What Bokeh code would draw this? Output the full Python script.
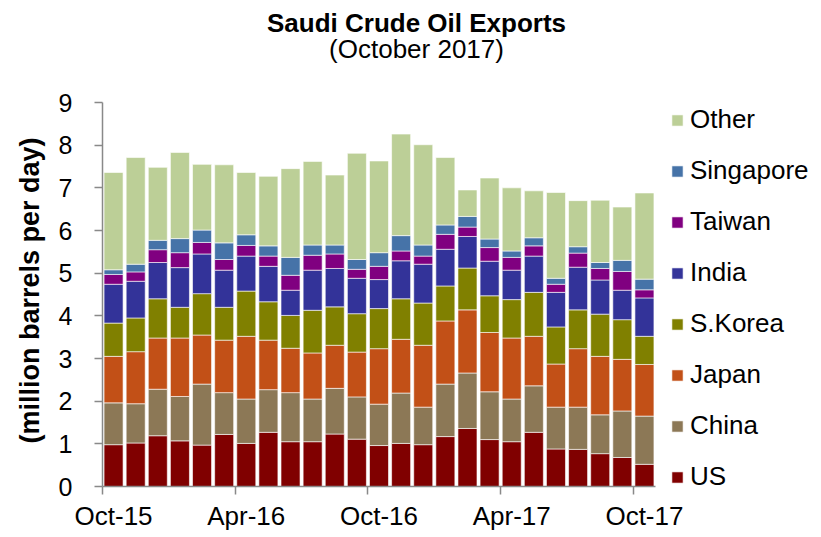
from bokeh.plotting import figure
from bokeh.models import Range1d, FixedTicker, Legend, LegendItem, Label, Title, ColumnDataSource
from bokeh.embed import file_html
from bokeh.resources import INLINE

months = ["Oct-15", "Nov-15", "Dec-15", "Jan-16", "Feb-16", "Mar-16", "Apr-16", "May-16",
          "Jun-16", "Jul-16", "Aug-16", "Sep-16", "Oct-16", "Nov-16", "Dec-16", "Jan-17",
          "Feb-17", "Mar-17", "Apr-17", "May-17", "Jun-17", "Jul-17", "Aug-17", "Sep-17", "Oct-17"]

us = [0.98, 1.02, 1.19, 1.07, 0.97, 1.22, 1.01, 1.27, 1.05, 1.05, 1.23, 1.11, 0.96,
      1.01, 0.98, 1.17, 1.36, 1.10, 1.05, 1.27, 0.88, 0.87, 0.77, 0.68, 0.52]
china = [0.98, 0.92, 1.09, 1.04, 1.43, 0.98, 1.04, 1.00, 1.15, 1.00, 1.07, 0.99, 0.97,
         1.18, 0.88, 1.23, 1.30, 1.12, 1.00, 1.09, 0.98, 0.99, 0.91, 1.09, 1.13]
japan = [1.09, 1.22, 1.20, 1.37, 1.15, 1.23, 1.47, 1.16, 1.04, 1.08, 1.01, 1.05, 1.30,
         1.26, 1.45, 1.48, 1.48, 1.39, 1.43, 1.16, 1.01, 1.37, 1.37, 1.21, 1.21]
skorea = [0.78, 0.79, 0.92, 0.72, 0.97, 0.77, 1.06, 0.90, 0.77, 1.00, 0.90, 0.90, 0.94,
          0.95, 0.99, 0.82, 0.98, 0.86, 0.90, 1.03, 0.87, 0.91, 0.99, 0.93, 0.66]
india = [0.91, 0.86, 0.85, 0.93, 0.93, 0.87, 0.82, 0.83, 0.59, 0.94, 0.90, 0.83, 0.68,
         0.89, 0.91, 0.86, 0.74, 0.81, 0.69, 0.85, 0.81, 1.00, 0.80, 0.69, 0.90]
taiwan = [0.23, 0.22, 0.30, 0.35, 0.27, 0.25, 0.25, 0.24, 0.35, 0.35, 0.34, 0.21, 0.31,
          0.23, 0.19, 0.35, 0.22, 0.32, 0.30, 0.24, 0.19, 0.33, 0.27, 0.44, 0.19]
singapore = [0.11, 0.18, 0.22, 0.33, 0.29, 0.39, 0.25, 0.24, 0.42, 0.24, 0.21, 0.23, 0.32,
             0.36, 0.26, 0.22, 0.25, 0.20, 0.15, 0.19, 0.14, 0.15, 0.14, 0.26, 0.25]
other = [2.28, 2.50, 1.71, 2.02, 1.54, 1.83, 1.46, 1.63, 2.08, 1.96, 1.64, 2.49, 2.15,
         2.38, 2.35, 1.58, 0.62, 1.43, 1.48, 1.10, 2.01, 1.08, 1.46, 1.25, 2.02]

series = ["US", "China", "Japan", "S.Korea", "India", "Taiwan", "Singapore", "Other"]
colors = ["#800000", "#8C7856", "#C25017", "#808000", "#333399", "#800080", "#4673A8", "#BCCF97"]
label_months = ["Oct-15", "Apr-16", "Oct-16", "Apr-17", "Oct-17"]
y_max = 9

FONT = "Liberation Sans"
AXIS_GRAY = "#898989"

# layout in pixels
W, H = 821, 537
LEFT, BOTTOM = 102, 51           # borders holding the axes
PLOT_W, PLOT_H = 553, 384        # pixel extent of the axes themselves
frame_w, frame_h = W - LEFT, H - BOTTOM

n = len(months)
ux = n / PLOT_W                  # data units per pixel
uy = y_max / PLOT_H

def to_data(px, py):
    return (px - LEFT) * ux, (frame_h - py) * uy

source = ColumnDataSource(dict(
    x=[i + 0.5 for i in range(n)],
    US=us, China=china, Japan=japan, **{"S.Korea": skorea}, India=india,
    Taiwan=taiwan, Singapore=singapore, Other=other))

p = figure(width=W, height=H, output_backend="svg", toolbar_location=None,
           x_range=Range1d(0, frame_w * ux), y_range=Range1d(0, frame_h * uy),
           min_border_left=LEFT, min_border_right=0, min_border_top=0,
           min_border_bottom=BOTTOM)
p.outline_line_color = None
p.xgrid.grid_line_color = None
p.ygrid.grid_line_color = None

renderers = p.vbar_stack(series, x="x", width=0.86, color=colors, source=source,
                         line_color="white", line_width=1, line_alpha=0.6)

# x axis: tick marks between categories, labels centred on bars
major = [months.index(m) + 0.5 for m in label_months]
minor = [months.index(m) for m in label_months]
xa = p.xaxis[0]
xa.bounds = (0, n)
xa.ticker = FixedTicker(ticks=major, minor_ticks=minor)
xa.major_label_overrides = {t: m for t, m in zip(major, label_months)}
xa.major_tick_out = 0
xa.major_tick_in = 0
xa.minor_tick_out = 8
xa.minor_tick_in = 0
xa.minor_tick_line_color = AXIS_GRAY
xa.minor_tick_line_width = 1.5
xa.axis_line_color = AXIS_GRAY
xa.axis_line_width = 1.5
xa.major_label_text_font = FONT
xa.major_label_text_font_size = "26px"
xa.major_label_text_color = "black"
xa.major_label_standoff = 6

ya = p.yaxis[0]
ya.bounds = (0, y_max)
ya.ticker = FixedTicker(ticks=list(range(0, y_max + 1)))
ya.minor_tick_line_color = None
ya.major_tick_out = 8
ya.major_tick_in = 0
ya.major_tick_line_color = AXIS_GRAY
ya.major_tick_line_width = 1.5
ya.axis_line_color = AXIS_GRAY
ya.axis_line_width = 1.5
ya.major_label_text_font = FONT
ya.major_label_text_font_size = "25px"
ya.major_label_text_color = "black"
ya.major_label_standoff = 22

# y-axis title as a left-side Title, starting near the bottom of the axis span
p.add_layout(Title(text="(million barrels per day)", text_font=FONT, text_font_size="27px",
                   text_font_style="bold", text_color="black", align="left",
                   offset=43, standoff=22), "left")

items = [LegendItem(label=s, renderers=[r]) for s, r in zip(series, renderers)][::-1]
legend = Legend(items=items, location=(670 - LEFT, -6), orientation="vertical",
                glyph_width=14, glyph_height=14, label_height=30, spacing=20,
                label_standoff=6, padding=0, margin=0,
                label_text_font=FONT, label_text_font_size="26px", label_text_color="black",
                border_line_color=None, background_fill_alpha=0)
p.add_layout(legend, "center")

tx, ty = to_data(416, 22.5)
sx, sy = to_data(416, 48.5)
p.add_layout(Label(x=tx, y=ty, text="Saudi Crude Oil Exports", text_font=FONT,
                   text_font_size="26px", text_font_style="bold", text_align="center",
                   text_baseline="middle", text_color="black"))
p.add_layout(Label(x=sx, y=sy, text="(October 2017)", text_font=FONT,
                   text_font_size="26px", text_align="center",
                   text_baseline="middle", text_color="black"))

open("out.html", "w").write(file_html(p, INLINE))
